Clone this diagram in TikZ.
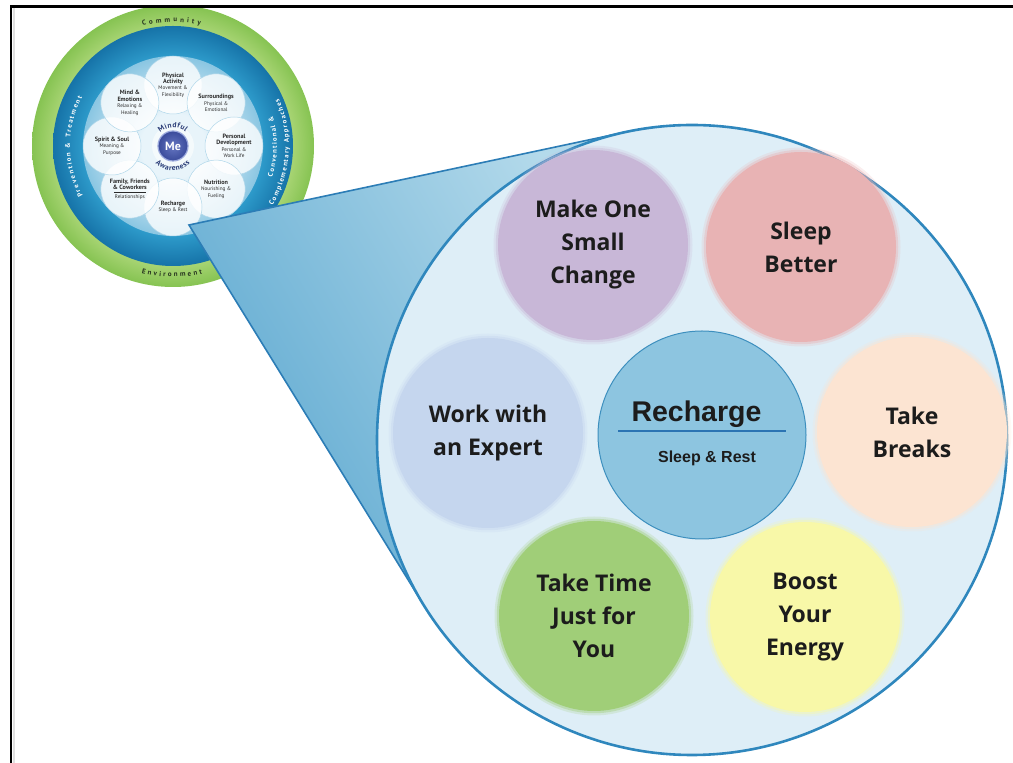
\documentclass[tikz,border=0pt]{standalone}
\usepackage{fontspec}
\usetikzlibrary{calc}
\setmainfont{Open Sans}
\newfontfamily\calloutfont{Open Sans}
\newfontfamily\headfont{Liberation Sans}
\newfontfamily\wheelfont{PT Sans}

% palette
\definecolor{grnin}{HTML}{A9D575}
\definecolor{grnout}{HTML}{86C352}
\definecolor{bandin}{HTML}{2D9ACA}
\definecolor{bandout}{HTML}{1673A8}
\definecolor{diskin}{HTML}{E8F4FA}
\definecolor{diskout}{HTML}{8AC6E2}
\definecolor{petaledge}{HTML}{B0D7EA}
\definecolor{petaltext}{HTML}{2A2A2A}
\definecolor{mein}{HTML}{6677C2}
\definecolor{meout}{HTML}{3A4B9B}
\definecolor{merim}{HTML}{9BA9DD}
\definecolor{mindink}{HTML}{2C3E78}
\definecolor{ringink}{HTML}{26331F}
\definecolor{lensfill}{HTML}{DEEEF7}
\definecolor{lensedge}{HTML}{2F87BD}
\definecolor{wedgedark}{HTML}{5CA8D0}
\definecolor{wedgelight}{HTML}{B4DAEB}
\definecolor{wedgeedge}{HTML}{2C7DB6}
\definecolor{makefill}{HTML}{C8B7D7}
\definecolor{sleepfill}{HTML}{E8B3B4}
\definecolor{expertfill}{HTML}{C5D6EE}
\definecolor{breaksfill}{HTML}{FCE4D2}
\definecolor{timefill}{HTML}{A0CE78}
\definecolor{boostfill}{HTML}{F8F8A8}
\definecolor{rechfill}{HTML}{8DC5E0}
\definecolor{rechedge}{HTML}{3D8FBE}
\definecolor{rechrule}{HTML}{2B74B3}
\definecolor{inktext}{HTML}{1C1C1C}

% ring shadings of the wellbeing wheel
\pgfdeclareradialshading{greenband}{\pgfpoint{0bp}{0bp}}{color(0bp)=(grnin); color(21bp)=(grnin); color(25bp)=(grnout); color(50bp)=(grnout)}
\pgfdeclareradialshading{blueband}{\pgfpoint{0bp}{0bp}}{color(0bp)=(bandin); color(18.75bp)=(bandin); color(25bp)=(bandout); color(50bp)=(bandout)}
\pgfdeclareradialshading{innerdisk}{\pgfpoint{0bp}{0bp}}{color(0bp)=(diskin); color(9bp)=(diskin); color(25bp)=(diskout); color(50bp)=(diskout)}

\newcommand\pettitle{\wheelfont\bfseries\fontsize{6.2}{6.4}\selectfont}
\newcommand\petsub{\wheelfont\mdseries\fontsize{5.2}{6.4}\selectfont}
\newcommand\ringfnt{\wheelfont\bfseries\fontsize{7}{8}\selectfont}
\newcommand\bandfnt{\wheelfont\bfseries\fontsize{6.8}{8}\selectfont}
\newcommand\hubfnt{\wheelfont\bfseries\fontsize{7.5}{8}\selectfont}

% glyph advances are measured once, in ordinary text mode
\newdimen\arcchw
\newcommand\measureglyphs[3]{% #1 key, #2 font, #3 comma list of glyphs
  \foreach \ch [count=\i] in {#3}{%
    \settowidth{\arcchw}{#2\ch}%
    \expandafter\xdef\csname arcw@#1@\i\endcsname{\the\arcchw}}}

% lettering set one glyph at a time along a circular arc
% #1 key, #2 centre, #3 baseline radius, #4 middle angle,
% #5 sense (1 = clockwise, tops outward; -1 = counter-clockwise, tops inward),
% #6 tracking (pt), #7 font and colour, #8 comma list of glyphs
\newcommand\arctext[8]{%
  \xdef\arctotal{0}%
  \foreach \ch [count=\i] in {#8}{%
    \pgfmathparse{\arctotal+\csname arcw@#1@\i\endcsname+#6}%
    \xdef\arctotal{\pgfmathresult}}%
  \pgfmathsetmacro\arcstart{#4+(#5)*deg(0.5*\arctotal/#3)}%
  \xdef\arccum{0}%
  \foreach \ch [count=\i] in {#8}{%
    \edef\chw{\csname arcw@#1@\i\endcsname}%
    \pgfmathsetmacro\chang{\arcstart-(#5)*deg((\arccum+0.5*\chw)/#3)}%
    \node[inner sep=0, outer sep=0, anchor=base, rotate={\chang-(#5)*90}]
      at ($(#2)+(\chang:#3)$) {#7\ch};
    \pgfmathparse{\arccum+\chw+#6}%
    \xdef\arccum{\pgfmathresult}}%
}

\pgfdeclarelayer{wheel}
\pgfdeclarelayer{wedge}
\pgfsetlayers{wheel,wedge,main}

\begin{document}%
\measureglyphs{mind}{\hubfnt}{M,i,n,d,f,u,l}%
\measureglyphs{aware}{\hubfnt}{A,w,a,r,e,n,e,s,s}%
\measureglyphs{comm}{\ringfnt}{C,o,m,m,u,n,i,t,y}%
\measureglyphs{env}{\ringfnt}{E,n,v,i,r,o,n,m,e,n,t}%
\measureglyphs{prev}{\bandfnt}{P,r,e,v,e,n,t,i,o,n,~,\&,~,T,r,e,a,t,m,e,n,t}%
\measureglyphs{conv}{\bandfnt}{C,o,n,v,e,n,t,i,o,n,a,l,~,\&}%
\measureglyphs{compl}{\bandfnt}{C,o,m,p,l,e,m,e,n,t,a,r,y,~,A,p,p,r,o,a,c,h,e,s}%
\begin{tikzpicture}[x=1pt,y=1pt,
  petal/.style={circle, minimum size=58, inner sep=0, fill=white, fill opacity=0.8,
    text opacity=1, draw=petaledge, line width=0.5, align=center, text=petaltext,
    font=\petsub},
  bubble/.style={circle, minimum size=190, inner sep=0, fill=#1,
    preaction={draw=#1, draw opacity=0.22, line width=9},
    preaction={draw=#1, draw opacity=0.4, line width=4.5},
    align=center, text=inktext,
    font=\calloutfont\bfseries\fontsize{23}{33}\selectfont}
]
\useasboundingbox (0,0) rectangle (1013,763);
\coordinate (W) at (173,617);

% ---------- wellbeing wheel ----------
\begin{pgfonlayer}{wheel}
\begin{scope}
\clip (0,0) rectangle (1013,757.5);
\shade[shading=greenband] (W) circle[radius=141];
\shade[shading=blueband] (W) circle[radius=120];
\shade[shading=innerdisk] (W) circle[radius=90];

\node[petal] (pa) at ($(W)+(90:61)$)   {{\pettitle Physical}\\{\pettitle Activity}\\Movement \&\\Flexibility};
\node[petal] (pb) at ($(W)+(45:61)$)   {{\pettitle Surroundings}\\Physical \&\\Emotional};
\node[petal] (pc) at ($(W)+(0:61)$)    {{\pettitle Personal}\\{\pettitle Development}\\Personal \&\\Work Life};
\node[petal] (pd) at ($(W)+(-45:61)$)  {{\pettitle Nutrition}\\Nourishing \&\\Fueling};
\node[petal] (pe) at ($(W)+(-90:61)$)  {{\pettitle Recharge}\\Sleep \& Rest};
\node[petal] (pf) at ($(W)+(-135:61)$) {{\pettitle Family, Friends}\\{\pettitle\& Coworkers}\\[2.5pt]Relationships};
\draw[petaltext, line width=0.3] ($(pf.center)+(-16,-3)$) -- ($(pf.center)+(16,-3)$);
\node[petal] (pg) at ($(W)+(180:61)$)  {{\pettitle Spirit \& Soul}\\Meaning \&\\Purpose};
\node[petal] (ph) at ($(W)+(135:61)$)  {{\pettitle Mind \&}\\{\pettitle Emotions}\\Relaxing \&\\Healing};

% hub: glowing disc with the "Me" label
\fill[white, opacity=0.55] (W) circle[radius=21];
\shade[inner color=mein, outer color=meout] (W) circle[radius=15];
\draw[merim, line width=1.2] (W) circle[radius=15];
\node[inner sep=0, text=white, font=\wheelfont\bfseries\fontsize{12}{12}\selectfont] (me) at (W) {Me};

\arctext{mind}{W}{18.5}{90}{1}{0.5}{\color{mindink}\hubfnt}{M,i,n,d,f,u,l}
\arctext{aware}{W}{24.5}{270}{-1}{0.5}{\color{mindink}\hubfnt}{A,w,a,r,e,n,e,s,s}

\arctext{comm}{W}{124}{90}{1}{3}{\color{ringink}\ringfnt}{C,o,m,m,u,n,i,t,y}
\arctext{env}{W}{131}{270}{-1}{2.3}{\color{ringink}\ringfnt}{E,n,v,i,r,o,n,m,e,n,t}
\arctext{prev}{W}{103}{180}{1}{1.5}{\color{white}\bandfnt}{P,r,e,v,e,n,t,i,o,n,~,\&,~,T,r,e,a,t,m,e,n,t}
\arctext{conv}{W}{104}{0}{-1}{1.3}{\color{white}\bandfnt}{C,o,n,v,e,n,t,i,o,n,a,l,~,\&}
\arctext{compl}{W}{116}{-3}{-1}{1.3}{\color{white}\bandfnt}{C,o,m,p,l,e,m,e,n,t,a,r,y,~,A,p,p,r,o,a,c,h,e,s}
\end{scope}
\end{pgfonlayer}

% ---------- magnifier ----------
\node[circle, minimum size=630, inner sep=0, outer sep=0, fill=lensfill,
      draw=lensedge, line width=2.6] (lens) at (692,323) {};
\coordinate (apex) at (189,538);
\coordinate (tu) at ($(apex)!447.2pt!35.16:(lens.center)$);
\coordinate (tl) at ($(apex)!447.2pt!-35.16:(lens.center)$);
\begin{pgfonlayer}{wedge}
\shade[left color=wedgedark, right color=wedgelight, shading angle=120] (apex) -- (tu) -- (tl) -- cycle;
\draw[wedgeedge, line width=1.6, line join=miter] (tu) -- (apex) -- (tl);
\end{pgfonlayer}

% ---------- recharge options ----------
\node[bubble=makefill]   (make)   at (593,518) {Make One\\Small\\Change};
\node[bubble=sleepfill]  (sleep)  at (801,516) {Sleep\\Better};
\node[bubble=expertfill] (expert) at (488,330) {Work with\\an Expert};
\node[bubble=breaksfill] (breaks) at (912,331) {Take\\Breaks};
\node[bubble=timefill]   (time)   at (594,147) {Take Time\\Just for\\You};
\node[bubble=boostfill]  (boost)  at (805,146) {Boost\\Your\\Energy};

\node[circle, minimum size=208, inner sep=0, fill=rechfill, draw=rechedge, line width=1] (rech) at (702,328) {};
\node[font=\headfont\bfseries\fontsize{28.5}{30}\selectfont, text=inktext, inner sep=0] (rtitle) at ($(rech.center)+(-5.5,20.7)$) {Recharge};
\draw[rechrule, line width=2.2] ($(rech.center)+(-84,4)$) coordinate (ruleL) -- ($(rech.center)+(84,4)$) coordinate (ruleR);
\node[font=\headfont\bfseries\fontsize{16}{18}\selectfont, text=inktext, inner sep=0] (rsub) at ($(rech.center)+(5,-23)$) {Sleep \& Rest};

% ---------- page frame ----------
\draw[black!12, line width=2.4] (13.8,0) -- (13.8,755);
\draw[black, line width=2.5, line join=miter] (11.2,0) -- (11.2,756.5) -- (1013,756.5);
\end{tikzpicture}
\end{document}
